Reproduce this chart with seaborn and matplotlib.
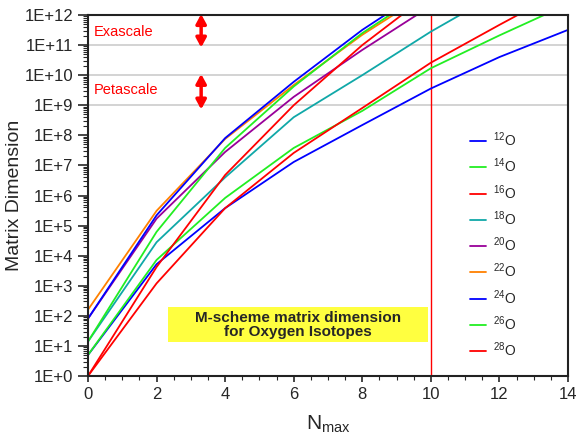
import numpy as np
import pandas as pd
import matplotlib
matplotlib.use('Agg')
import matplotlib.pyplot as plt
import matplotlib.ticker as mticker
from matplotlib.patches import Rectangle
import seaborn as sns

# M-scheme dimensions (Nmax = 0, 2, 4, ...)
nmax = [0, 2, 4, 6, 8, 10, 12, 14]
isotopes = ['12O', '14O', '16O', '18O', '20O', '22O', '24O', '26O', '28O']
o12 = [5, 5.2e3, 3.8e5, 1.3e7, 2.2e8, 3.6e9, 4.0e10, 3.2e11]
o14 = [5, 7.2e3, 8.3e5, 3.8e7, 6.5e8, 1.7e10, 2.1e11, 2.3e12]
o16 = [1, 1.2e3, 3.8e5, 2.6e7, 8.1e8, 2.6e10, 4.7e11, 7.9e12]
o18 = [14, 2.8e4, 4.0e6, 4.0e8, 1.0e10, 2.8e11, 5.6e12]
o20 = [81, 1.7e5, 2.8e7, 1.9e9, 6.9e10, 2.0e12]
o22 = [160, 3.1e5, 7.6e7, 4.7e9, 2.2e11, 6.3e12]
o24 = [81, 2.2e5, 8.1e7, 6.0e9, 3.2e11, 1.0e13]
o26 = [14, 6.2e4, 3.8e7, 4.2e9, 2.5e11, 7.9e12]
o28 = [1, 4.2e3, 4.8e6, 1.0e9, 1.0e11, 5.5e12]
series = [o12, o14, o16, o18, o20, o22, o24, o26, o28]
colors = ['#0000ff', '#22ee22', '#ff0000', '#10a8a8', '#990099',
          '#ff8000', '#0000ff', '#22ee22', '#ff0000']

rows = []
for iso, vals in zip(isotopes, series):
    for n, v in zip(nmax, vals):
        rows.append({'Nmax': n, 'dim': v, 'isotope': iso})
df = pd.DataFrame(rows)

sns.set_style('ticks')
plt.rcParams['font.family'] = ['Liberation Sans', 'DejaVu Sans']
plt.rcParams['mathtext.fontset'] = 'custom'
plt.rcParams['mathtext.rm'] = 'Liberation Sans'
plt.rcParams['mathtext.it'] = 'Liberation Sans:italic'
plt.rcParams['mathtext.bf'] = 'Liberation Sans:bold'

fig = plt.figure(figsize=(5.77, 4.37), dpi=100)
ax = fig.add_axes([88/577, (437-376)/437, 480/577, 361/437])

for y in [1e9, 1e10, 1e11]:
    ax.axhline(y, color='#cccccc', lw=1.2, zorder=0)
ax.axvline(10, color='#ff0000', lw=1.0, zorder=1)

sns.lineplot(data=df, x='Nmax', y='dim', hue='isotope', hue_order=isotopes,
             palette=dict(zip(isotopes, colors)), lw=1.3, sort=False,
             estimator=None, ax=ax)

ax.set_yscale('log')
ax.set_xlim(0, 14)
ax.set_ylim(1, 1e12)
ax.yaxis.set_major_locator(mticker.LogLocator(base=10, numticks=20))
ax.yaxis.set_minor_locator(mticker.LogLocator(base=10, subs=np.arange(2, 10), numticks=100))
ax.yaxis.set_major_formatter(mticker.FuncFormatter(lambda v, p: '1E+%d' % round(np.log10(v))))
ax.yaxis.set_minor_formatter(mticker.NullFormatter())
ax.xaxis.set_major_locator(mticker.MultipleLocator(2))
ax.xaxis.set_minor_locator(mticker.MultipleLocator(0.5))
ax.tick_params(axis='y', which='major', length=7, width=1.2, labelsize=12, direction='out')
ax.tick_params(axis='y', which='minor', length=3.5, width=0.8, direction='out')
ax.tick_params(axis='x', which='major', length=4.5, width=1.2, labelsize=12, direction='out')
ax.tick_params(axis='x', which='minor', length=3, width=0.8, direction='out')
for s in ax.spines.values():
    s.set_linewidth(1.5)
    s.set_color('#222222')

ax.set_xlabel(r'N$_{\mathregular{max}}$', fontsize=15, labelpad=8)
ax.set_ylabel('Matrix Dimension', fontsize=14, labelpad=1)

# scale annotations
ax.text(0.18, 10**11.45, 'Exascale', color='red', fontsize=10.5, va='center')
ax.text(0.18, 10**9.5, 'Petascale', color='red', fontsize=10.5, va='center')
arrow = dict(arrowstyle='<|-|>,head_length=0.55,head_width=0.3', color='red', lw=2.5,
             shrinkA=0, shrinkB=0)
ax.annotate('', xy=(3.3, 10**12.03), xytext=(3.3, 10**10.92), arrowprops=arrow,
            annotation_clip=False)
ax.annotate('', xy=(3.3, 10**10.04), xytext=(3.3, 10**8.86), arrowprops=arrow,
            annotation_clip=False)

# yellow title box
ax.add_patch(Rectangle((0.167, 0.094), 0.541, 0.097, transform=ax.transAxes,
                       facecolor='#ffff40', edgecolor='none', zorder=2))
ax.text(0.4375, 0.1425, 'M-scheme matrix dimension\nfor Oxygen Isotopes',
        transform=ax.transAxes, ha='center', va='center', fontsize=11,
        fontweight='bold', linespacing=1.0, zorder=3)

handles, labels = ax.get_legend_handles_labels()
ax.legend(handles, [r'$^{%s}$O' % l[:-1] for l in labels], loc='upper left',
          bbox_to_anchor=(0.795, 0.68), frameon=False, fontsize=10,
          handlelength=1.2, handletextpad=0.5, labelspacing=0.55,
          borderpad=0, borderaxespad=0)

fig.savefig('out.png', dpi=100)
